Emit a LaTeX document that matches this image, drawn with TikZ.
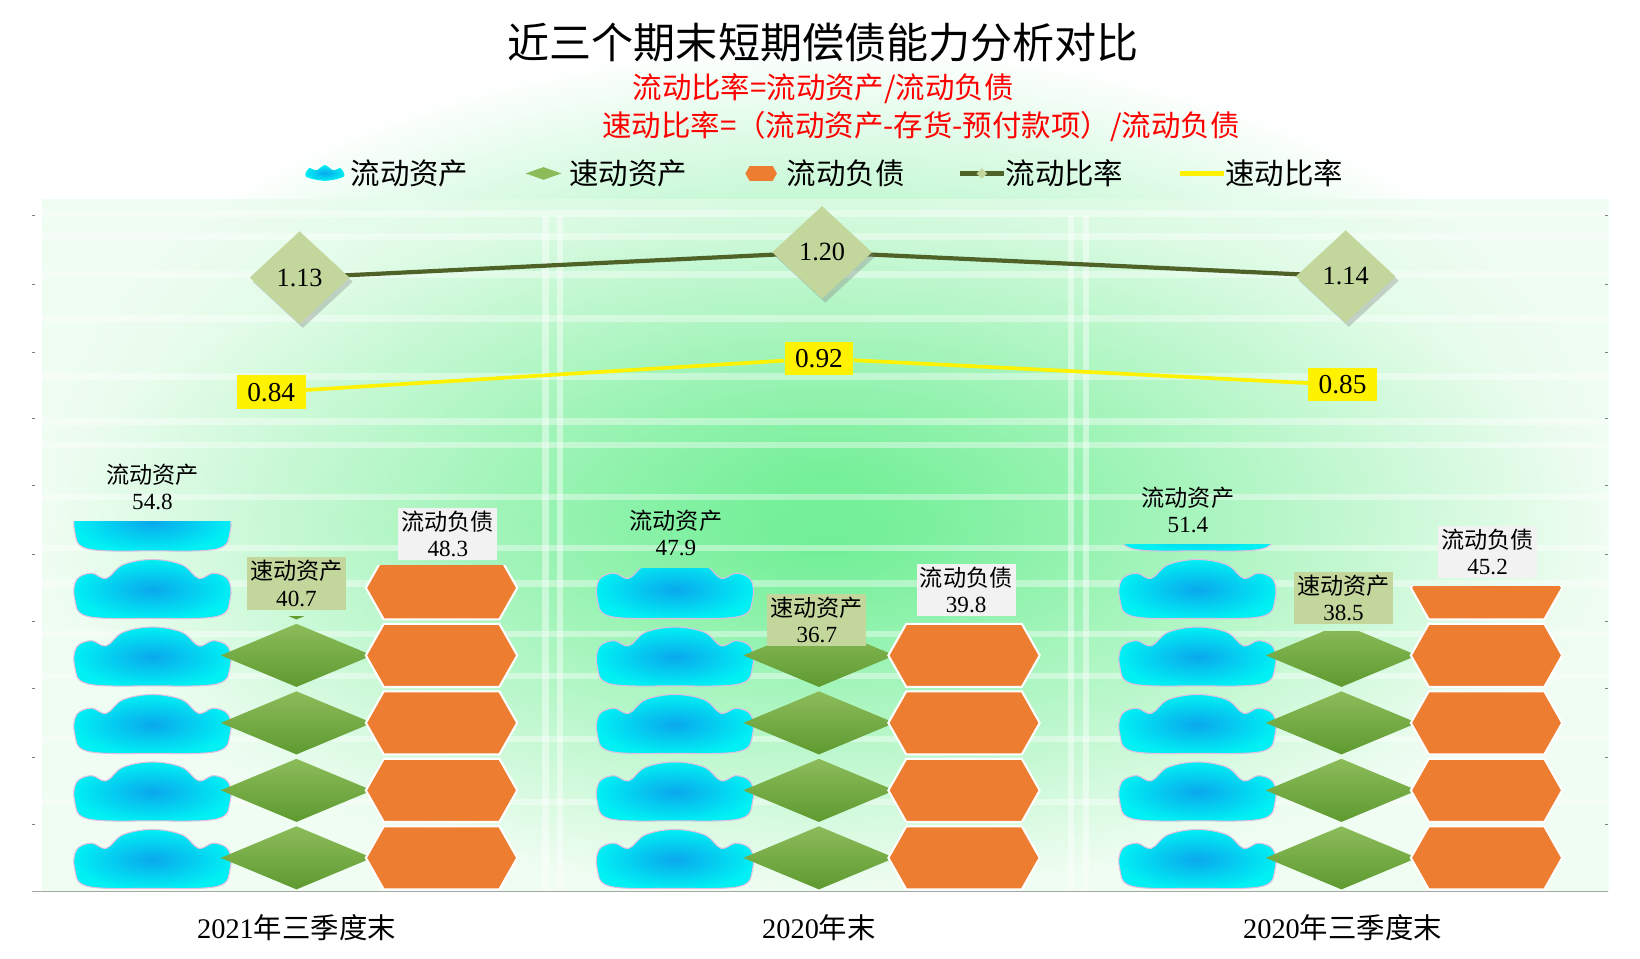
\documentclass[tikz,border=0pt]{standalone}
\usepackage{fontspec}
\setmainfont{Liberation Serif}
\newfontfamily\cjk{Noto Sans CJK SC}
\usetikzlibrary{shapes.geometric,shadows}
\definecolor{cyanin}{HTML}{0AA8EC}
\definecolor{cyanout}{HTML}{00F0F4}
\definecolor{gtop}{HTML}{8CBC5A}
\definecolor{gbot}{HTML}{5E9A30}
\definecolor{orng}{HTML}{ED7D31}
\definecolor{ratiog}{HTML}{C3D69B}
\definecolor{darkg}{HTML}{4F6228}
\definecolor{lbox}{HTML}{F2F2F2}
\definecolor{bgg}{HTML}{66EE8E}
\definecolor{bgo}{HTML}{E6FCEA}
\newcommand\cyanshape[2]{%
  \shade[inner color=cyanin,outer color=cyanout,draw=violet!25,line width=1pt]
    plot[smooth cycle,tension=0.6] coordinates{
    (#1-62,#2-5) (#1,#2-3) (#1+62,#2-5) (#1+74,#2-22) (#1+72,#2-40) (#1+58,#2-46)
    (#1+44,#2-41) (#1+28,#2-54) (#1,#2-59) (#1-28,#2-54) (#1-44,#2-41) (#1-58,#2-46)
    (#1-72,#2-40) (#1-74,#2-22)};}
\newcommand\greenshape[2]{%
  \shade[top color=gtop,bottom color=gbot] (#1-72,#2-32)--(#1,#2-62)--(#1+72,#2-32)--(#1,#2-2)--cycle;}
\newcommand\orangeshape[2]{%
  \fill[orng,draw=white,line width=2pt] (#1-72,#2-32)--(#1-55,#2-62)--(#1+55,#2-62)--(#1+72,#2-32)--(#1+55,#2-2)--(#1-55,#2-2)--cycle;}
\newcommand\drawstack[3]{%
  \pgfmathsetmacro\ytop{848-#2*6.42}%
  \pgfmathtruncatemacro\nn{ceil(#2/10)}%
  \begin{scope}
    \clip (#1-95,\ytop) rectangle (#1+95,850);
    \foreach \k in {1,...,\nn}{%
      \pgfmathsetmacro\yb{848-(\k-1)*64.2}%
      #3{#1}{\yb}}
  \end{scope}}
\tikzset{
  dlab/.style={font=\fontsize{22}{25}\selectfont,align=center,inner sep=3pt,anchor=south},
  rdiam/.style={diamond,fill=ratiog,minimum width=95pt,minimum height=88pt,inner sep=0pt,
     font=\fontsize{25}{27}\selectfont,drop shadow={opacity=0.35,shadow xshift=3pt,shadow yshift=-4pt}},
  qbox/.style={fill=yellow,inner xsep=10pt,inner ysep=7pt,font=\fontsize{26}{28}\selectfont},
  cat/.style={font=\fontsize{27}{29}\selectfont},
  leg/.style={font=\cjk\fontsize{28}{30}\selectfont,anchor=west}
}
\begin{document}
\begin{tikzpicture}[x=1pt,y=-1pt]
\useasboundingbox (0,0) rectangle (1560,912);
\fill[white] (0,0) rectangle (1560,912);
% background
\shade[inner color=bgg,outer color=white] (40,40) rectangle (1530,848);
\shade[inner color=bgg,outer color=bgo,opacity=0.6] (40,190) rectangle (1530,848);
\foreach \yy in {200,222,258,300,355,398,420,470,518,552,600,640,700,760}
  \fill[white,opacity=0.4] (40,\yy) rectangle (1530,\yy+6);
\foreach \xx in {516,530,1016,1030}
  \fill[white,opacity=0.45] (\xx,205) rectangle (\xx+6,848);
% axis
\draw[gray!70,line width=1pt] (30,848) -- (1530,848);
\foreach \yy in {205,270,335,398,462,527,591,655,720,784} {\draw[gray] (30,\yy)--(33,\yy); \draw[gray] (1527,\yy)--(1530,\yy);}
% titles
\node (title) at (783,40) {\cjk\fontsize{40}{42}\selectfont 近三个期末短期偿债能力分析对比};
\node[red] (sub1) at (783,84) {\cjk\fontsize{28}{30}\selectfont 流动比率=流动资产/流动负债};
\node[red] (sub2) at (876,120) {\cjk\fontsize{28}{30}\selectfont 速动比率=（流动资产-存货-预付款项）/流动负债};
% legend
\begin{scope}
\shade[inner color=cyanin,outer color=cyanout] plot[smooth cycle] coordinates{(291,168)(309,172)(327,168)(324,160)(317,162)(309,157)(301,162)(294,160)};
\node[leg] (l1) at (330,165) {流动资产};
\fill[gtop] (500,165)--(517,159)--(534,165)--(517,171)--cycle;
\node[leg] (l2) at (538,165) {速动资产};
\fill[orng] (709,165)--(713,158)--(735,158)--(739,165)--(735,172)--(713,172)--cycle;
\node[leg] (l3) at (745,165) {流动负债};
\draw[darkg,line width=4pt] (913,165)--(955,165);
\fill[ratiog] (934,160)--(939,165)--(934,170)--(929,165)--cycle;
\node[leg] (l4) at (953,165) {流动比率};
\draw[yellow,line width=4pt] (1122,165)--(1164,165);
\node[leg] (l5) at (1162,165) {速动比率};
\end{scope}
% stacks
\drawstack{145}{54.8}{\cyanshape}
\drawstack{282}{40.7}{\greenshape}
\drawstack{420}{48.3}{\orangeshape}
\drawstack{642}{47.9}{\cyanshape}
\drawstack{779}{36.7}{\greenshape}
\drawstack{917}{39.8}{\orangeshape}
\drawstack{1139}{51.4}{\cyanshape}
\drawstack{1276}{38.5}{\greenshape}
\drawstack{1414}{45.2}{\orangeshape}
% data labels
\node[dlab] (a1) at (145,488) {\cjk 流动资产\\54.8};
\node[dlab,fill=ratiog] (b1) at (282,580) {\cjk 速动资产\\40.7};
\node[dlab,fill=lbox] (c1) at (426,533) {\cjk 流动负债\\48.3};
\node[dlab] (a2) at (643,532) {\cjk 流动资产\\47.9};
\node[dlab,fill=ratiog] (b2) at (777,615) {\cjk 速动资产\\36.7};
\node[dlab,fill=lbox] (c2) at (919,586) {\cjk 流动负债\\39.8};
\node[dlab] (a3) at (1130,510) {\cjk 流动资产\\51.4};
\node[dlab,fill=ratiog] (b3) at (1278,594) {\cjk 速动资产\\38.5};
\node[dlab,fill=lbox] (c3) at (1415,550) {\cjk 流动负债\\45.2};
% ratio lines
\node[qbox] (q1) at (258,373) {0.84};
\node[qbox] (q2) at (779,341) {0.92};
\node[qbox] (q3) at (1277,366) {0.85};
\draw[yellow,line width=3.5pt] (q1) -- (q2) -- (q3);
\node[qbox] at (q1) {0.84};
\node[qbox] at (q2) {0.92};
\node[qbox] at (q3) {0.85};
\coordinate (r1c) at (285,264);
\coordinate (r2c) at (782,240);
\coordinate (r3c) at (1280,263);
\draw[darkg,line width=4pt] (r1c) -- (r2c) -- (r3c);
\node[rdiam] (r1) at (r1c) {1.13};
\node[rdiam] (r2) at (r2c) {1.20};
\node[rdiam] (r3) at (r3c) {1.14};
% categories
\node[cat] (x1) at (282,882) {2021{\cjk 年三季度末}};
\node[cat] (x2) at (779,882) {2020{\cjk 年末}};
\node[cat] (x3) at (1277,882) {2020{\cjk 年三季度末}};
\end{tikzpicture}
\end{document}
